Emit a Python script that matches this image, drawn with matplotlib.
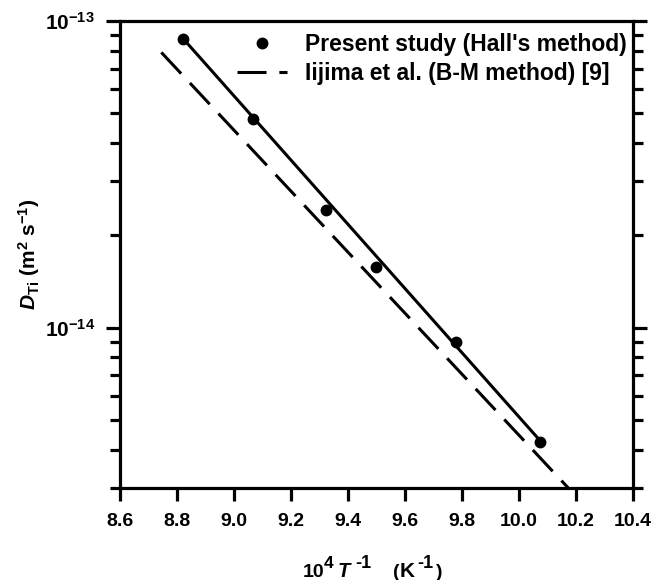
import matplotlib
matplotlib.use("Agg")
import matplotlib.pyplot as plt
from matplotlib.ticker import LogLocator, NullFormatter, FixedLocator

# ---- data ----
inv_T = [8.822, 9.068, 9.322, 9.498, 9.778, 10.074]          # 10^4/T (1/K)
D_present = [8.75e-14, 4.79e-14, 2.42e-14, 1.58e-14, 8.96e-15, 4.23e-15]  # m^2/s

fit_x = [8.822, 10.074]
fit_y = [8.75e-14, 4.28e-15]

iijima_x = [8.745, 10.173]
iijima_y = [7.9e-14, 3.0e-15]

xticks = [8.6, 8.8, 9.0, 9.2, 9.4, 9.6, 9.8, 10.0, 10.2, 10.4]
xticklabels = ["8.6", "8.8", "9.0", "9.2", "9.4", "9.6", "9.8", "10.0", "10.2", "10.4"]
yticks = [1e-14, 1e-13]

label_present = "Present study (Hall's method)"
label_iijima = "Iijima et al. (B-M method) [9]"

# ---- style ----
plt.rcParams['font.family'] = ['Liberation Sans', 'DejaVu Sans']
plt.rcParams['font.weight'] = 'bold'
plt.rcParams['mathtext.fontset'] = 'custom'
plt.rcParams['mathtext.rm'] = 'Liberation Sans:bold'
plt.rcParams['mathtext.it'] = 'Liberation Sans:italic:bold'
plt.rcParams['mathtext.bf'] = 'Liberation Sans:bold'
plt.rcParams['mathtext.default'] = 'rm'

W, H = 653, 580
fig = plt.figure(figsize=(W/100, H/100), dpi=100)
ax = fig.add_axes([120/W, 1-488/H, 513/W, 467/H])

def px(x, y):
    return x / W, 1 - y / H

lw_sp = 2.3
for s in ['left', 'right', 'top', 'bottom']:
    ax.spines[s].set_linewidth(lw_sp)

ax.plot(fit_x, fit_y, color='black', lw=2.2, solid_capstyle='butt', zorder=3)
ax.plot(iijima_x, iijima_y, color='black', lw=2.2, dashes=(9.5, 4.2),
        dash_capstyle='butt', label=label_iijima, zorder=3)
ax.plot(inv_T, D_present, 'o', color='black', ms=7.5, label=label_present, zorder=4, clip_on=False)

ax.set_yscale('log')
ax.set_xlim(8.6, 10.4)
ax.set_ylim(3e-15, 1e-13)

ax.xaxis.set_major_locator(FixedLocator(xticks))
ax.set_xticklabels(xticklabels)
ax.yaxis.set_major_locator(FixedLocator(yticks))
ax.set_yticklabels([r"$\mathregular{10^{-14}}$", r"$\mathregular{10^{-13}}$"])
ax.yaxis.set_minor_locator(LogLocator(base=10, subs=range(2, 10), numticks=20))
ax.yaxis.set_minor_formatter(NullFormatter())

ax.tick_params(axis='x', which='major', direction='out', length=9, width=lw_sp,
               labelsize=14, pad=9, top=False)
ax.tick_params(axis='y', which='major', direction='out', length=10, width=lw_sp,
               labelsize=15, pad=8, right=True)
ax.tick_params(axis='y', which='minor', direction='out', length=7.5, width=lw_sp,
               right=True)

# x label built from pieces (large superscripts as in the reference)
base_y = 577
sup_y = 567.5
pieces = [
    ("10", 303, base_y, 14, 'normal'),
    ("4", 324, sup_y, 12.5, 'normal'),
    ("T", 338, base_y, 14.5, 'italic'),
    ("-1", 355, sup_y, 13, 'normal'),
    ("(", 393, base_y, 14, 'normal'),
    ("K", 400, base_y, 15, 'normal'),
    ("-1", 417, sup_y, 13, 'normal'),
    (")", 436, base_y, 14, 'normal'),
]
for txt, x, y, fs, st in pieces:
    fig.text(*px(x, y), txt, fontsize=fs, fontweight='bold', style=st,
             va='baseline', ha='left')

ax.set_ylabel(r"$\mathit{D}_{\mathrm{Ti}}$ (m$^2$ s$^{-1}$)", fontsize=15, fontweight='bold')
ax.yaxis.set_label_coords(-0.152, 0.5)

handles, labels = ax.get_legend_handles_labels()
leg = ax.legend(handles[::-1], labels[::-1], loc='upper right',
                bbox_to_anchor=((627-120)/513, 1 - (33-21)/467),
                frameon=False, fontsize=16.5, borderpad=0, borderaxespad=0,
                handlelength=2.2, handletextpad=0.8, labelspacing=0.28,
                numpoints=1)

fig.savefig('out.png', dpi=100)
